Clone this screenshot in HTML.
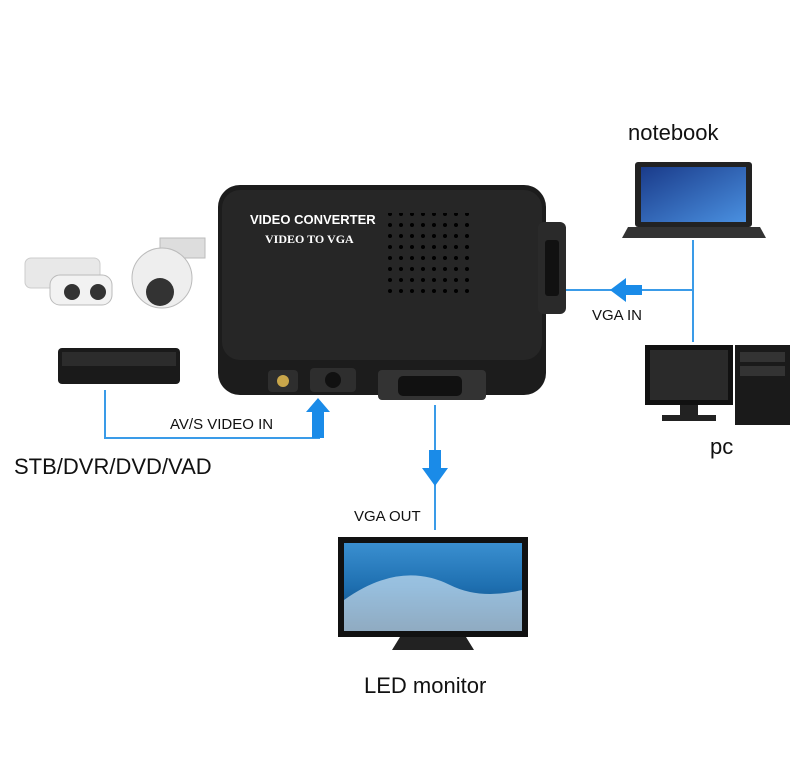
<!DOCTYPE html>
<html><head><style>
body{margin:0;background:#fff;width:795px;height:764px;overflow:hidden;position:relative;font-family:"Liberation Sans",sans-serif}
.t{position:absolute;color:#111;white-space:nowrap}
</style></head><body>
<svg width="795" height="764" style="position:absolute;left:0;top:0">
<defs>
<linearGradient id="sea" x1="0" y1="0" x2="0" y2="1"><stop offset="0" stop-color="#3a8fd0"/><stop offset="0.5" stop-color="#1e6fb0"/><stop offset="1" stop-color="#0d3f6a"/></linearGradient>
<linearGradient id="scr" x1="0" y1="0" x2="1" y2="1"><stop offset="0" stop-color="#1a3b8a"/><stop offset="1" stop-color="#4a90e0"/></linearGradient>
<pattern id="holes" width="11" height="11" patternUnits="userSpaceOnUse"><circle cx="5" cy="5" r="2" fill="#000"/></pattern>
</defs>
<!-- blue lines -->
<g stroke="#3a9be8" stroke-width="2" fill="none">
<polyline points="105,390 105,438 320,438"/>
<line x1="435" y1="405" x2="435" y2="530"/>
<polyline points="565,290 693,290"/>
<line x1="693" y1="240" x2="693" y2="342"/>
</g>
<g fill="#1a8be8">
<polygon points="318,398 330,412 324,412 324,438 312,438 312,412 306,412"/>
<polygon points="435,486 422,468 429,468 429,450 441,450 441,468 448,468"/>
<polygon points="610,290 626,278 626,285 642,285 642,295 626,295 626,302"/>
</g>
<!-- converter -->
<rect x="218" y="185" width="328" height="210" rx="22" fill="#1c1c1c"/>
<rect x="222" y="190" width="320" height="170" rx="18" fill="#262626"/>
<rect x="385" y="213" width="88" height="80" fill="url(#holes)"/>
<rect x="538" y="222" width="28" height="92" rx="6" fill="#2a2a2a"/>
<rect x="545" y="240" width="14" height="56" rx="3" fill="#111"/>
<rect x="268" y="370" width="30" height="22" rx="4" fill="#2e2e2e"/>
<circle cx="283" cy="381" r="6" fill="#c9a64a"/>
<rect x="310" y="368" width="46" height="24" rx="4" fill="#2e2e2e"/>
<circle cx="333" cy="380" r="8" fill="#111"/>
<rect x="378" y="370" width="108" height="30" rx="4" fill="#333"/>
<rect x="398" y="376" width="64" height="20" rx="5" fill="#111"/>
<!-- bullet camera -->
<rect x="25" y="258" width="75" height="30" rx="6" fill="#e8e8e8" stroke="#ccc"/>
<rect x="50" y="275" width="62" height="30" rx="10" fill="#f2f2f2" stroke="#bbb"/>
<circle cx="72" cy="292" r="8" fill="#333"/><circle cx="98" cy="292" r="8" fill="#333"/>
<!-- dome -->
<rect x="160" y="238" width="45" height="20" fill="#ddd" stroke="#bbb"/>
<circle cx="162" cy="278" r="30" fill="#eee" stroke="#bbb"/>
<circle cx="160" cy="292" r="14" fill="#333"/>
<!-- stb -->
<rect x="58" y="348" width="122" height="36" rx="4" fill="#1a1a1a"/>
<rect x="62" y="352" width="114" height="14" fill="#2c2c2c"/>
<!-- laptop -->
<rect x="635" y="162" width="117" height="65" rx="3" fill="#222"/>
<rect x="641" y="167" width="105" height="55" fill="url(#scr)"/>
<polygon points="628,227 760,227 766,238 622,238" fill="#333"/>
<!-- pc -->
<rect x="645" y="345" width="88" height="60" fill="#111"/>
<rect x="650" y="350" width="78" height="50" fill="#2a2a2a"/>
<rect x="680" y="405" width="18" height="12" fill="#222"/><rect x="662" y="415" width="54" height="6" fill="#222"/>
<rect x="735" y="345" width="55" height="80" fill="#1a1a1a"/>
<rect x="740" y="352" width="45" height="10" fill="#333"/><rect x="740" y="366" width="45" height="10" fill="#333"/>
<!-- TV -->
<rect x="338" y="537" width="190" height="100" fill="#111"/>
<rect x="344" y="543" width="178" height="88" fill="url(#sea)"/>
<path d="M344,600 Q400,560 450,585 Q480,600 522,590 L522,631 L344,631Z" fill="#e8f4fb" opacity="0.6"/>
<polygon points="400,637 466,637 474,650 392,650" fill="#222"/>
</svg>
<div class="t" style="left:250px;top:212px;color:#fff;font-weight:bold;font-size:13px">VIDEO CONVERTER</div>
<div class="t" style="left:265px;top:232px;color:#fff;font-family:'Liberation Serif',serif;font-weight:bold;font-size:12px">VIDEO TO VGA</div>
<div class="t" style="left:170px;top:416px;font-size:15px">AV/S VIDEO IN</div>
<div class="t" style="left:14px;top:454px;font-size:22px">STB/DVR/DVD/VAD</div>
<div class="t" style="left:354px;top:508px;font-size:15px">VGA OUT</div>
<div class="t" style="left:364px;top:673px;font-size:22px">LED monitor</div>
<div class="t" style="left:628px;top:120px;font-size:22px">notebook</div>
<div class="t" style="left:592px;top:307px;font-size:15px">VGA IN</div>
<div class="t" style="left:710px;top:434px;font-size:22px">pc</div>
</body></html>
